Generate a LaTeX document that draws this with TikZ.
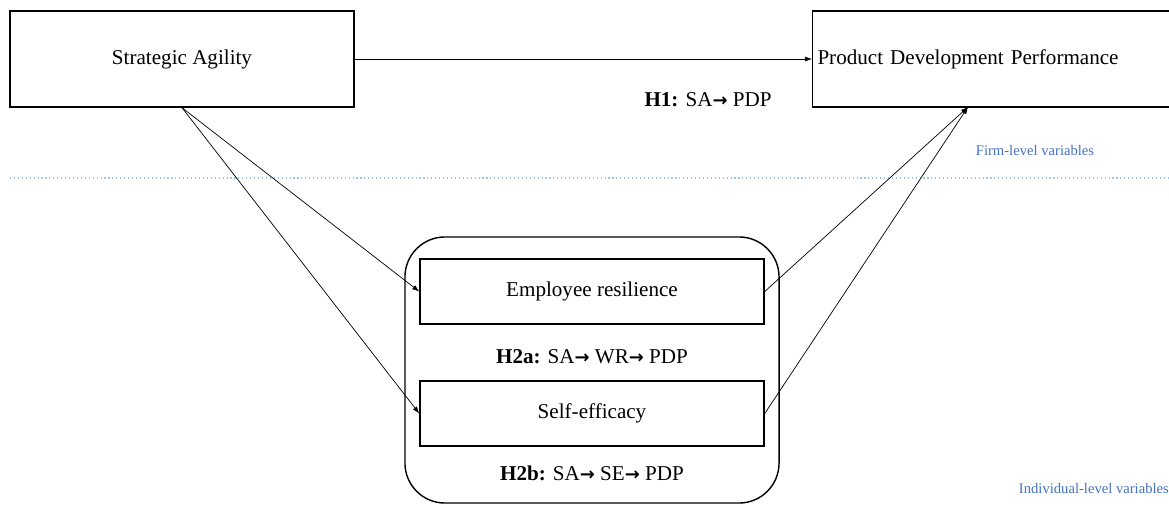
\documentclass[tikz,border=0pt]{standalone}
\usepackage{fontspec}
\setmainfont{Liberation Serif}
\newfontfamily\arrowfont{DejaVu Sans}
\usetikzlibrary{arrows.meta}
\definecolor{levelblue}{HTML}{4472C4}
\definecolor{sepblue}{HTML}{9DC3E6}
\newcommand{\hto}{{\arrowfont\bfseries\scalebox{0.85}{→}}}
\tikzset{
  varbox/.style={draw,line width=1pt,font=\fontsize{15}{17}\selectfont},
  hyp/.style={font=\fontsize{15}{17}\selectfont},
  link/.style={-{Latex[length=5pt,width=3.6pt]},line width=0.5pt},
  lvl/.style={text=levelblue,font=\fontsize{10.4}{12}\selectfont}
}
\begin{document}
\begin{tikzpicture}[x=0.025cm,y=-0.025cm]
    \useasboundingbox (0,0) rectangle (1169,512);
    % level separator
    \draw[sepblue,dotted,line width=0.8pt] (10,178) -- (1169,178);
    \node[lvl] (firm) at (1035,150) {Firm-level variables};
    \node[lvl,anchor=west] (indiv) at (1014,488) {Individual-level variables};

    \node[varbox,minimum width=8.6cm,minimum height=2.4cm] (sa) at (182,59) {Strategic Agility};
    \node[varbox,anchor=west,text width=9.0cm,inner xsep=0.12cm,align=left,minimum height=2.4cm] (pdp) at (812,59) {Product Development\ Performance};
    \coordinate (pdpin) at (968,107);

    \node[draw,line width=1pt,rounded corners=1cm,minimum width=9.35cm,minimum height=6.65cm] (indivgrp) at (592,370) {};
    \node[varbox,minimum width=8.6cm,minimum height=1.625cm] (er) at (592,291.5) {Employee\ resilience};
    \node[varbox,minimum width=8.6cm,minimum height=1.625cm] (se) at (592,413.5) {Self-efficacy};

    \node[hyp] (h1) at (708,100) {\textbf{H1:} SA\hto\ PDP};
    \node[hyp] (h2a) at (592,357) {\textbf{H2a:} SA\hto\ WR\hto\ PDP};
    \node[hyp] (h2b) at (592,473) {\textbf{H2b:} SA\hto\ SE\hto\ PDP};

    \draw[link] (sa.east) -- (pdp.west);
    \draw[link] (sa.south) -- (er.west);
    \draw[link] (sa.south) -- (se.west);
    \draw[link] (er.east) -- (pdpin);
    \draw[link] (se.east) -- (pdpin);
\end{tikzpicture}
\end{document}
